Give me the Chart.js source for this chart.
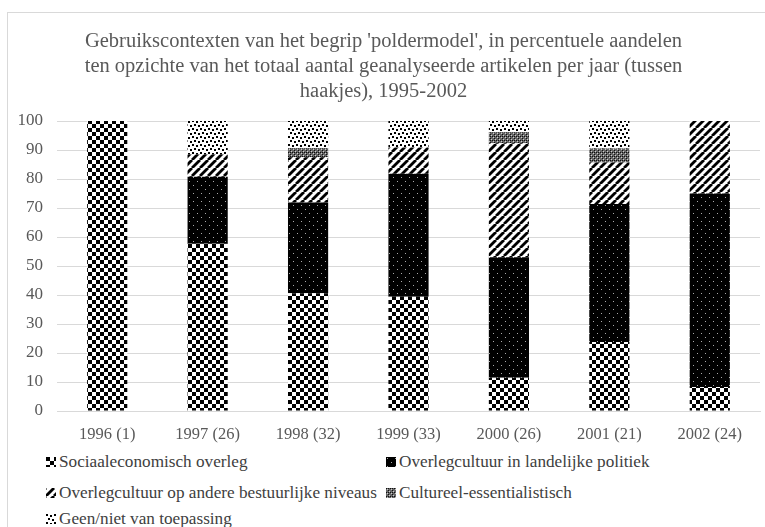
<!DOCTYPE html>
<html>
<head>
<meta charset="utf-8">
<script src="https://cdn.jsdelivr.net/npm/chart.js@4"></script>
<style>
  html, body { margin: 0; padding: 0; background: #fff; }
  #wrap { position: relative; width: 765px; height: 527px; overflow: hidden; }
  #frame { position: absolute; left: 7px; top: 12px; width: 800px; height: 600px;
           border-left: 1px solid #d9d9d9; border-top: 1px solid #d9d9d9; }
  #chart { position: absolute; left: 0; top: 0; }
  #legend { position: absolute; left: 46px; top: 452px; width: 715px;
            font-family: 'Liberation Serif', serif; font-size: 17.2px; color: #404040; }
  .item { position: absolute; white-space: nowrap; display: flex; align-items: center; }
  .item canvas { width: 10px; height: 10px; margin-right: 3px; }
</style>
</head>
<body>
<div id="wrap">
  <div id="frame"></div>
  <canvas id="chart" width="765" height="451"></canvas>
  <div id="legend"></div>
</div>
<script>
const years = ['1996 (1)', '1997 (26)', '1998 (32)', '1999 (33)', '2000 (26)', '2001 (21)', '2002 (24)'];
const sociaal    = [100, 57.7, 40.6, 39.4, 11.5, 23.8, 8.3];
const landelijk  = [0, 23.1, 31.3, 42.4, 41.5, 47.6, 66.7];
const andere     = [0, 7.7, 15.6, 9.1, 39.3, 14.3, 25.0];
const cultureel  = [0, 0, 3.1, 0, 3.8, 4.8, 0];
const geen       = [0, 11.5, 9.4, 9.1, 3.9, 9.5, 0];
const seriesNames = ['Sociaaleconomisch overleg', 'Overlegcultuur in landelijke politiek',
  'Overlegcultuur op andere bestuurlijke niveaus', 'Cultureel-essentialistisch', 'Geen/niet van toepassing'];
const yTicks = [0, 10, 20, 30, 40, 50, 60, 70, 80, 90, 100];

// pattern tiles
function tile(size, draw) {
    const c = document.createElement('canvas');
    c.width = size; c.height = size;
    const g = c.getContext('2d');
    draw(g, size);
    return c;
}
const tiles = [
    tile(8, (g) => { // checkerboard
        g.fillStyle = '#fff'; g.fillRect(0, 0, 8, 8);
        g.fillStyle = '#000'; g.fillRect(0, 0, 4, 4); g.fillRect(4, 4, 4, 4);
    }),
    tile(8, (g) => { // black with small white dots
        g.fillStyle = '#000'; g.fillRect(0, 0, 8, 8);
        g.fillStyle = '#aaa'; g.fillRect(1, 1, 1, 1); g.fillRect(5, 5, 1, 1);
    }),
    tile(8, (g) => { // wide upward diagonal
        g.fillStyle = '#fff'; g.fillRect(0, 0, 8, 8);
        g.strokeStyle = '#000'; g.lineWidth = 2.8;
        [-8, 0, 8].forEach(o => { g.beginPath(); g.moveTo(o, 8); g.lineTo(o + 8, 0); g.stroke(); });
    }),
    tile(4, (g) => { // fine grey checker
        g.fillStyle = '#666'; g.fillRect(0, 0, 4, 4);
        g.fillStyle = '#111'; g.fillRect(0, 0, 1, 1); g.fillRect(2, 2, 1, 1); g.fillRect(2, 0, 1, 1);
        g.fillStyle = '#ccc'; g.fillRect(1, 1, 1, 1); g.fillRect(3, 3, 1, 1);
    }),
    tile(8, (g) => { // confetti
        g.fillStyle = '#fff'; g.fillRect(0, 0, 8, 8);
        g.fillStyle = '#000';
        g.fillRect(0, 0, 2, 2); g.fillRect(4, 1, 2, 2); g.fillRect(2, 4, 2, 2); g.fillRect(6, 5, 2, 2);
    })
];
const ctx = document.getElementById('chart').getContext('2d');
const patterns = tiles.map(t => ctx.createPattern(t, 'repeat'));

const seriesData = [sociaal, landelijk, andere, cultureel, geen];

new Chart(ctx, {
    type: 'bar',
    data: {
        labels: years,
        datasets: seriesData.map((d, i) => ({
            label: seriesNames[i],
            data: d,
            backgroundColor: patterns[i],
            borderWidth: 0,
            categoryPercentage: 1,
            barPercentage: 0.4
        }))
    },
    options: {
        responsive: false,
        animation: false,
        layout: { padding: { left: 7, right: 5, top: 0, bottom: 0 } },
        plugins: {
            legend: { display: false },
            tooltip: { enabled: false },
            title: {
                display: true,
                text: ["Gebruikscontexten van het begrip 'poldermodel', in percentuele aandelen",
                       'ten opzichte van het totaal aantal geanalyseerde artikelen per jaar (tussen',
                       'haakjes), 1995-2002'],
                color: '#595959',
                font: { family: "'Liberation Serif', serif", size: 20.5, weight: 'normal', lineHeight: 1.22 },
                padding: { top: 29, bottom: 17 }
            }
        },
        scales: {
            x: {
                stacked: true,
                grid: { display: false, drawTicks: false },
                border: { color: '#d9d9d9' },
                ticks: { color: '#595959', padding: 14, font: { family: "'Liberation Serif', serif", size: 16.5 } },
                afterFit: (s) => { s.height = 40; }
            },
            y: {
                stacked: true,
                min: 0, max: 100,
                afterBuildTicks: (s) => { s.ticks = yTicks.map(v => ({ value: v })); },
                grid: { color: '#d9d9d9', drawTicks: false },
                border: { display: false },
                ticks: { color: '#595959', padding: 14, font: { family: "'Liberation Serif', serif", size: 17 } },
                afterFit: (s) => { s.width = 50; }
            }
        }
    }
});

// html legend in two columns
const pos = [[0, 0], [340, 0], [0, 31], [340, 31], [0, 57]];
const legend = document.getElementById('legend');
seriesNames.forEach((name, i) => {
    const el = document.createElement('div');
    el.className = 'item';
    el.style.left = pos[i][0] + 'px';
    el.style.top = pos[i][1] + 'px';
    const sw = document.createElement('canvas');
    sw.width = 10; sw.height = 10;
    const g = sw.getContext('2d');
    g.fillStyle = g.createPattern(tiles[i], 'repeat');
    g.fillRect(0, 0, 10, 10);
    el.appendChild(sw);
    el.appendChild(document.createTextNode(name));
    legend.appendChild(el);
});
</script>
</body>
</html>
